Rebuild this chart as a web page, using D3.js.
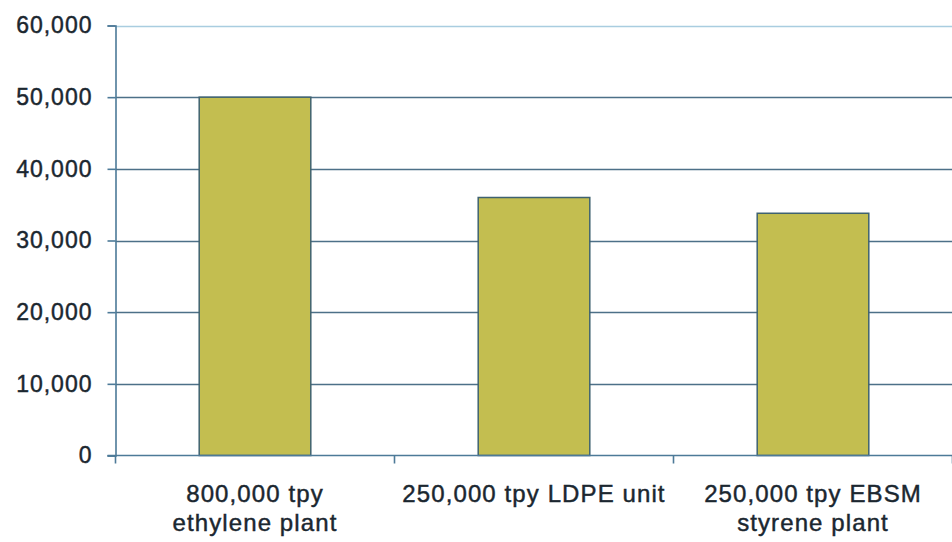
<!DOCTYPE html>
<html>
<head>
<meta charset="utf-8">
<script src="https://cdn.jsdelivr.net/npm/d3@7"></script>
<style>
  html, body { margin: 0; padding: 0; background: #ffffff; }
  svg { display: block; }
  text { font-family: "Liberation Sans", Arial, sans-serif; fill: #1b2730; }
</style>
</head>
<body>
<svg id="chart" width="952" height="542"></svg>
<script>
// Plant categories (two-line labels) and their values
const categories = ["800,000 tpy|ethylene plant", "250,000 tpy LDPE unit", "250,000 tpy EBSM|styrene plant"];
const values = [50000, 36000, 33800];
const yTicks = [0, 10000, 20000, 30000, 40000, 50000, 60000];

const svg = d3.select("#chart");
const margin = { left: 115.5, right: 0, top: 25.5, bottom: 87 };
const W = 952, H = 542;

const x = d3.scaleBand()
  .domain(categories)
  .range([margin.left, margin.left + 279 * 3])
  .paddingInner(0.6)
  .paddingOuter(0.3);

const y = d3.scaleLinear()
  .domain([0, 60000])
  .range([455.5, margin.top]);

const fmt = d3.format(",");

// Horizontal gridlines
svg.append("g")
  .selectAll("line")
  .data(yTicks.filter(d => d > 0))
  .join("line")
  .attr("x1", margin.left)
  .attr("x2", W)
  .attr("y1", d => Math.round(y(d)) + 0.5)
  .attr("y2", d => Math.round(y(d)) + 0.5)
  .attr("stroke", d => d === 60000 ? "#a9cde0" : "#4d7088")
  .attr("stroke-width", 1.6);

// Bars
svg.append("g")
  .selectAll("rect")
  .data(values)
  .join("rect")
  .attr("x", (d, i) => x(categories[i]))
  .attr("width", x.bandwidth())
  .attr("y", d => y(d))
  .attr("height", d => y(0) - y(d))
  .attr("fill", "#c3be50")
  .attr("stroke", "#3f6270")
  .attr("stroke-width", 1.5);

// Y axis
const yAxis = d3.axisLeft(y)
  .tickValues(yTicks)
  .tickFormat(fmt)
  .tickSize(8)
  .tickPadding(15);

const gy = svg.append("g")
  .attr("transform", `translate(${margin.left},0)`)
  .call(yAxis);
gy.select(".domain").attr("stroke", "#4d7a98").attr("stroke-width", 1.6);
gy.selectAll(".tick line").attr("stroke", "#4d7a98").attr("stroke-width", 1.6);
gy.selectAll(".tick text")
  .attr("font-size", 23)
  .attr("letter-spacing", 1)
  .attr("fill", "#1b2730")
  .attr("stroke", "#1b2730")
  .attr("stroke-width", 0.45)
  .attr("font-family", "Liberation Sans, Arial, sans-serif");

// X axis baseline with category boundary ticks
const gx = svg.append("g")
  .attr("transform", `translate(0,${y(0)})`);
gx.append("line")
  .attr("x1", margin.left - 8)
  .attr("x2", W)
  .attr("stroke", "#4d7a98")
  .attr("stroke-width", 1.6);
const step = x.step();
gx.selectAll("line.bt")
  .data(d3.range(0, categories.length + 1))
  .join("line")
  .attr("class", "bt")
  .attr("x1", i => margin.left + i * step)
  .attr("x2", i => margin.left + i * step)
  .attr("y1", 0)
  .attr("y2", 8)
  .attr("stroke", "#4d7a98")
  .attr("stroke-width", 1.6);

// Category labels
const labels = svg.append("g")
  .selectAll("text")
  .data(categories)
  .join("text")
  .attr("text-anchor", "middle")
  .attr("font-size", 24)
  .attr("letter-spacing", 1.1)
  .attr("stroke", "#1b2730")
  .attr("stroke-width", 0.45)
  .attr("x", d => x(d) + x.bandwidth() / 2)
  .attr("y", 502);
labels.each(function (d) {
  const parts = d.split("|");
  const t = d3.select(this);
  parts.forEach((p, k) => {
    t.append("tspan")
      .attr("x", x(d) + x.bandwidth() / 2)
      .attr("dy", k === 0 ? 0 : 29)
      .text(p);
  });
});
</script>
</body>
</html>
